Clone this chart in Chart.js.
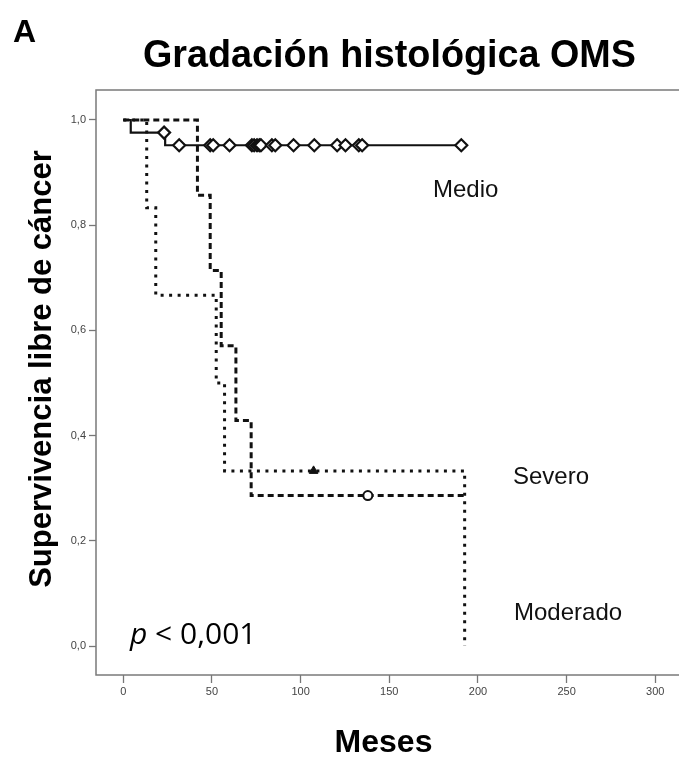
<!DOCTYPE html>
<html><head><meta charset="utf-8">
<script src="https://cdn.jsdelivr.net/npm/chart.js@4.4.1/dist/chart.umd.min.js"></script>
<style>
html,body{margin:0;padding:0;background:#fff;overflow:hidden;width:679px;height:758px}
#wrap{position:absolute;left:0;top:0;width:700px;height:758px}
</style>
</head><body><div id="wrap"><canvas id="c" width="700" height="758"></canvas></div>
<script>
// ---- data ----
const xTicks = [0, 50, 100, 150, 200, 250, 300];
const yTicks = [0, 0.2, 0.4, 0.6, 0.8, 1.0];

const medioTimes = [0, 4.2, 23.6, 190.6];
const medioSurv  = [1, 0.976, 0.952, 0.952];
const medioCensored = [23.0, 31.5, 49, 50.7, 59.9, 72.5, 73.8, 75.4, 76.7, 77.6, 83.8, 85.7, 96, 107.7, 120.6, 125.3, 132.8, 134.7, 190.6];

const moderadoTimes = [0, 13.2, 18.3, 52.4, 57.1, 192.5];
const moderadoSurv  = [1, 0.833, 0.667, 0.5, 0.333, 0];
const moderadoCensored = [107.3];

const severoTimes = [0, 41.8, 49, 55.2, 63.5, 72.1, 192.5];
const severoSurv  = [1, 0.857, 0.714, 0.571, 0.429, 0.286, 0.286];
const severoCensored = [137.9];

const groupLabels = ['Medio', 'Severo', 'Moderado'];
const titleText = 'Gradación histológica OMS';
const yTitle = 'Supervivencia libre de cáncer';
const xTitle = 'Meses';
const panelLetter = 'A';
const pText = ['p', ' < 0,001'];

// ---- helpers ----
const toPts = (ts, vs) => ts.map((t, i) => ({x: t, y: vs[i]}));
function survAt(ts, vs, t) {
  let v = vs[0];
  for (let i = 0; i < ts.length; i++) { if (ts[i] <= t) v = vs[i]; }
  return v;
}
const censPts = (cs, ts, vs) => cs.map(t => ({x: t, y: survAt(ts, vs, t)}));

const INK = '#111';

const framePlugin = {
  id: 'frame',
  beforeDatasetsDraw(chart) {
    const {ctx, chartArea: a} = chart;
    ctx.save();
    ctx.strokeStyle = '#7a7a7a';
    ctx.lineWidth = 1.5;
    ctx.strokeRect(a.left, a.top, a.right - a.left, a.bottom - a.top);
    ctx.restore();
  }
};

const textPlugin = {
  id: 'texts',
  afterDraw(chart) {
    const ctx = chart.ctx;
    ctx.save();
    ctx.fillStyle = '#000';
    ctx.textBaseline = 'alphabetic';
    ctx.textAlign = 'left';
    ctx.font = 'bold 32px "Liberation Sans", Arial, sans-serif';
    ctx.fillText(panelLetter, 13, 42);
    ctx.textAlign = 'center';
    ctx.font = 'bold 39px "Liberation Sans", Arial, sans-serif';
    ctx.fillText(titleText, 389.5, 67, 493);
    ctx.font = 'bold 32px "Liberation Sans", Arial, sans-serif';
    ctx.fillText(xTitle, 383.5, 752, 98);
    ctx.save();
    ctx.translate(51, 369);
    ctx.rotate(-Math.PI / 2);
    ctx.font = 'bold 31px "Liberation Sans", Arial, sans-serif';
    ctx.fillText(yTitle, 0, 0, 442);
    ctx.restore();
    ctx.textAlign = 'left';
    ctx.fillStyle = '#111';
    ctx.font = '24px "Liberation Sans", Arial, sans-serif';
    ctx.fillText(groupLabels[0], 433, 197);
    ctx.fillText(groupLabels[1], 513, 484);
    ctx.fillText(groupLabels[2], 514, 620);
    ctx.fillStyle = '#000';
    ctx.font = 'italic 30px "Open Sans", sans-serif';
    ctx.fillText(pText[0], 130, 644);
    const w = ctx.measureText(pText[0]).width;
    ctx.font = '30px "Open Sans", sans-serif';
    ctx.fillText(pText[1], 130 + w, 644, 258 - 130 - w);
    ctx.restore();
  }
};

const lineDs = (label, pts, dash, width, order) => ({
  label, data: pts, showLine: true, stepped: 'before',
  borderColor: INK, borderWidth: width, borderDash: dash, borderCapStyle: 'butt',
  pointRadius: 0, pointHoverRadius: 0, fill: false, order
});

const tickFont = {family: '"Liberation Sans", Arial, sans-serif', size: 11};
const noPad = s => { s.paddingLeft = 0; s.paddingRight = 0; s.paddingTop = 0; s.paddingBottom = 0; };

new Chart(document.getElementById('c').getContext('2d'), {
  type: 'scatter',
  data: {
    datasets: [
      {label: 'Medio censurado', data: censPts(medioCensored, medioTimes, medioSurv),
       pointStyle: 'rectRot', pointRadius: 6, pointBorderWidth: 2.2, pointBackgroundColor: '#fff', pointBorderColor: INK, showLine: false, order: 0},
      {label: 'Moderado censurado', data: censPts(moderadoCensored, moderadoTimes, moderadoSurv),
       pointStyle: 'triangle', pointRadius: 5, pointBorderWidth: 1, pointBackgroundColor: INK, pointBorderColor: INK, showLine: false, order: 0},
      {label: 'Severo censurado', data: censPts(severoCensored, severoTimes, severoSurv),
       pointStyle: 'circle', pointRadius: 4.5, pointBorderWidth: 2, pointBackgroundColor: '#fff', pointBorderColor: INK, showLine: false, order: 0},
      lineDs('Medio', toPts(medioTimes, medioSurv), [], 2.2, 1),
      lineDs('Severo', toPts(severoTimes, severoSurv), [6, 4], 3, 2),
      lineDs('Moderado', toPts(moderadoTimes, moderadoSurv), [3, 5.5], 3, 3)
    ]
  },
  options: {
    responsive: false, animation: false, devicePixelRatio: 1,
    layout: {padding: {top: 90, left: 0, right: 0, bottom: 0}},
    plugins: {legend: {display: false}, tooltip: {enabled: false}},
    scales: {
      x: {
        type: 'linear', min: -15.4, max: 320.6,
        afterBuildTicks: s => { s.ticks = xTicks.map(v => ({value: v})); },
        afterFit: s => { s.height = 83; noPad(s); },
        grid: {drawOnChartArea: false, tickLength: 8, color: '#777', tickWidth: 1.3},
        border: {display: false},
        ticks: {font: tickFont, color: '#444', padding: 2, maxRotation: 0, autoSkip: false,
                callback: v => String(v)}
      },
      y: {
        type: 'linear', min: -0.055, max: 1.057,
        afterBuildTicks: s => { s.ticks = yTicks.map(v => ({value: v})); },
        afterFit: s => { s.width = 96; noPad(s); },
        grid: {drawOnChartArea: false, tickLength: 7, color: '#777', tickWidth: 1.3},
        border: {display: false},
        ticks: {font: tickFont, color: '#444', padding: 3, autoSkip: false,
                callback: v => v.toFixed(1).replace('.', ',')}
      }
    }
  },
  plugins: [framePlugin, textPlugin]
});
</script>
</body></html>
